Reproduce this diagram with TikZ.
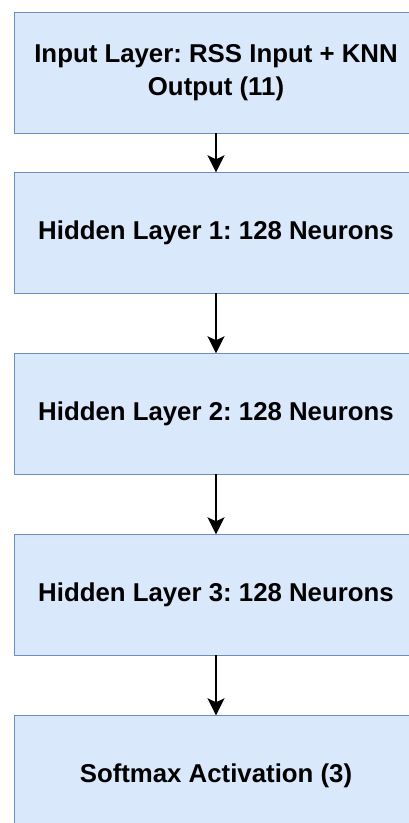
\documentclass[tikz,border=0pt]{standalone}
\usepackage{fontspec}
\setmainfont{Liberation Sans}
\usetikzlibrary{positioning,arrows.meta}
\definecolor{layerfill}{HTML}{DAE8FC}
\definecolor{layerdraw}{HTML}{6C8EBF}
\frenchspacing

\begin{document}
\begin{tikzpicture}[x=1pt, y=1pt, font=\bfseries\fontsize{25.8}{32.5}\selectfont, line join=round,
		>={Stealth[length=17pt, width=17pt, inset=4pt]},
		layer/.style={draw=layerdraw, fill=layerfill, line width=1.5pt, minimum width=403pt, minimum height=121pt, align=center, inner sep=0pt, outer sep=0pt},
		flow/.style={->, line width=1.8pt}]
	\useasboundingbox (0,0) rectangle (408,-823);
	% the stacked layers of the network
	\node[layer] (input) at (216,-72.8) {Input Layer: RSS Input + KNN\\Output (11)};
	\node[layer, below=39pt of input] (hidden1) {Hidden Layer 1: 128 Neurons};
	\node[layer, below=60pt of hidden1] (hidden2) {Hidden Layer 2: 128 Neurons};
	\node[layer, below=60pt of hidden2] (hidden3) {Hidden Layer 3: 128 Neurons};
	\node[layer, below=60pt of hidden3] (softmax) {Softmax Activation (3)};
	% forward connections
	\foreach \a/\b in {input/hidden1, hidden1/hidden2, hidden2/hidden3, hidden3/softmax}
		\draw[flow] (\a) -- (\b);
\end{tikzpicture}
\end{document}
